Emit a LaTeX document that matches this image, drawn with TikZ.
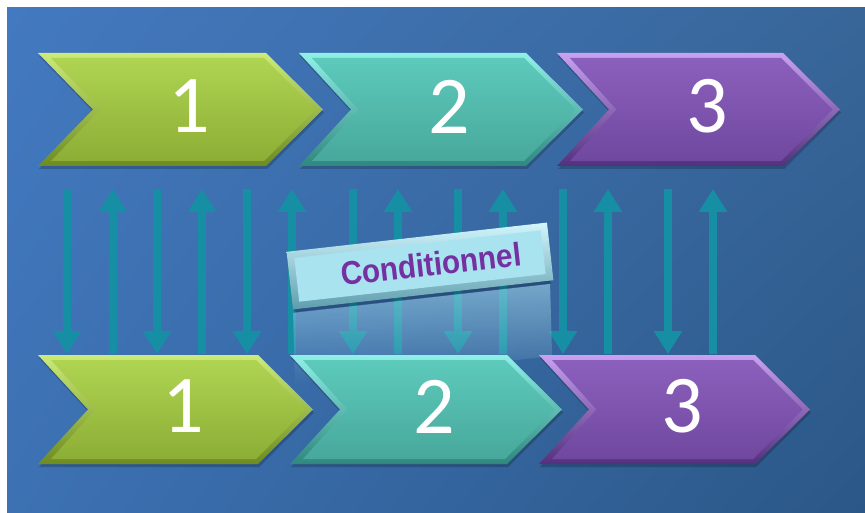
\documentclass[tikz,border=0pt]{standalone}
\usepackage{fontspec}
\setmainfont{Carlito}
\newfontfamily\arialfont[FakeStretch=0.9]{Liberation Sans}
\usetikzlibrary{arrows.meta,fadings,shadings}
\definecolor{bgUL}{HTML}{4379C0}
\definecolor{bgUR}{HTML}{386699}
\definecolor{bgLL}{HTML}{3C71B3}
\definecolor{bgLR}{HTML}{2B5787}
\definecolor{arrowc}{HTML}{168FA5}
\definecolor{ghi}{HTML}{CDEB78}
\definecolor{glo}{HTML}{6E8B22}
\definecolor{gft}{HTML}{AFD452}
\definecolor{gfb}{HTML}{8CAE35}
\definecolor{thi}{HTML}{90F0E8}
\definecolor{tlo}{HTML}{2F877E}
\definecolor{tft}{HTML}{5DCABB}
\definecolor{tfb}{HTML}{47A89B}
\definecolor{phi}{HTML}{C8A2F0}
\definecolor{plo}{HTML}{53307E}
\definecolor{pft}{HTML}{8B60BD}
\definecolor{pfb}{HTML}{70489F}
\definecolor{cbhi}{HTML}{D2F6FC}
\definecolor{cblo}{HTML}{5E9DAE}
\definecolor{cbface}{HTML}{A9E3EF}
\definecolor{cbtext}{HTML}{7530A2}
\definecolor{reflc}{HTML}{A6DCEB}
\tikzfading[name=fadedown, top color=transparent!45, bottom color=transparent!100]
\tikzset{
  arr/.style={line width=8pt, draw=arrowc, -{Triangle[width=27pt,length=23pt]}},
  numlabel/.style={inner sep=0pt, text=white, font=\fontsize{82}{82}\selectfont},
  condouter/.style={rectangle, inner sep=0pt, minimum width=262pt, minimum height=58pt,
    top color=cbhi, bottom color=cblo},
  condface/.style={rectangle, inner sep=0pt, minimum width=248pt, minimum height=44pt,
    fill=cbface},
  condlabel/.style={inner sep=0pt, text=cbtext, font=\arialfont\bfseries\fontsize{33}{33}\selectfont},
}
\begin{document}
\begin{tikzpicture}[x=1pt,y=-1pt]
\useasboundingbox (0,0) rectangle (865,513);
\fill[white] (0,0) rectangle (865,513);
\shade[upper left=bgUL, upper right=bgUR, lower left=bgLL, lower right=bgLR] (7,8) rectangle (865,513);

% arrows
\foreach \x [count=\i] in {67,157,247,353,458,563,668} {
  \coordinate (dt\i) at (\x,189);
  \coordinate (db\i) at (\x,354);
  \draw[arr] (dt\i) -- (db\i);
}
\foreach \x [count=\i] in {113,202,292,398,503,608,713} {
  \coordinate (ub\i) at (\x,354);
  \coordinate (ut\i) at (\x,189);
  \draw[arr] (ub\i) -- (ut\i);
}

% reflection of the label
\fill[reflc, path fading=fadedown] (293,313) -- (550,284) -- (552,356) -- (295,385) -- cycle;

% chevrons
\foreach \L/\T/\W/\H/\n/\p/\cl/\num/\nm in {
  38/53/285/113/55/57/g/1/ta, 299/53/284/113/52/57/t/2/tb, 557/53/283/113/52/57/p/3/tc,
  38/355/275/109/50/55/g/1/ba, 290/355/272/109/50/55/t/2/bb, 539/355/271/109/50/55/p/3/bc} {
  \pgfmathsetmacro\R{\L+\W-\p}
  \pgfmathsetmacro\X{\L+\W}
  \pgfmathsetmacro\B{\T+\H}
  \pgfmathsetmacro\M{\T+\H/2}
  \fill[black, opacity=.2] (\L+1,\T+3) -- (\R+1,\T+3) -- (\X+1,\M+3) -- (\R+1,\B+3) -- (\L+1,\B+3) -- (\L+\n+1,\M+3) -- cycle;
  \shade[top color=\cl hi, bottom color=\cl lo] (\L,\T) -- (\R,\T) -- (\X,\M) -- (\R,\B) -- (\L,\B) -- (\L+\n,\M) -- cycle;
  \shade[top color=\cl ft, bottom color=\cl fb] (\L+13,\T+5) -- (\R-2,\T+5) -- (\X-7.5,\M) -- (\R-2,\B-5) -- (\L+13,\B-5) -- (\L+\n+7.5,\M) -- cycle;
  \node[numlabel] (\nm) at (\L+0.53*\W,\M-3) {\num};
}

% label
\fill[black, opacity=.25, rotate around={6.4:(420,266)}] (290,240) rectangle (548,298);
\node[condouter, rotate=6.4] (cond) at (420,266) {};
\node[condface, rotate=6.4] (condface) at (cond.center) {};
\node[condlabel, rotate=6.4] (condtext) at (431,264) {Conditionnel};
\end{tikzpicture}
\end{document}
